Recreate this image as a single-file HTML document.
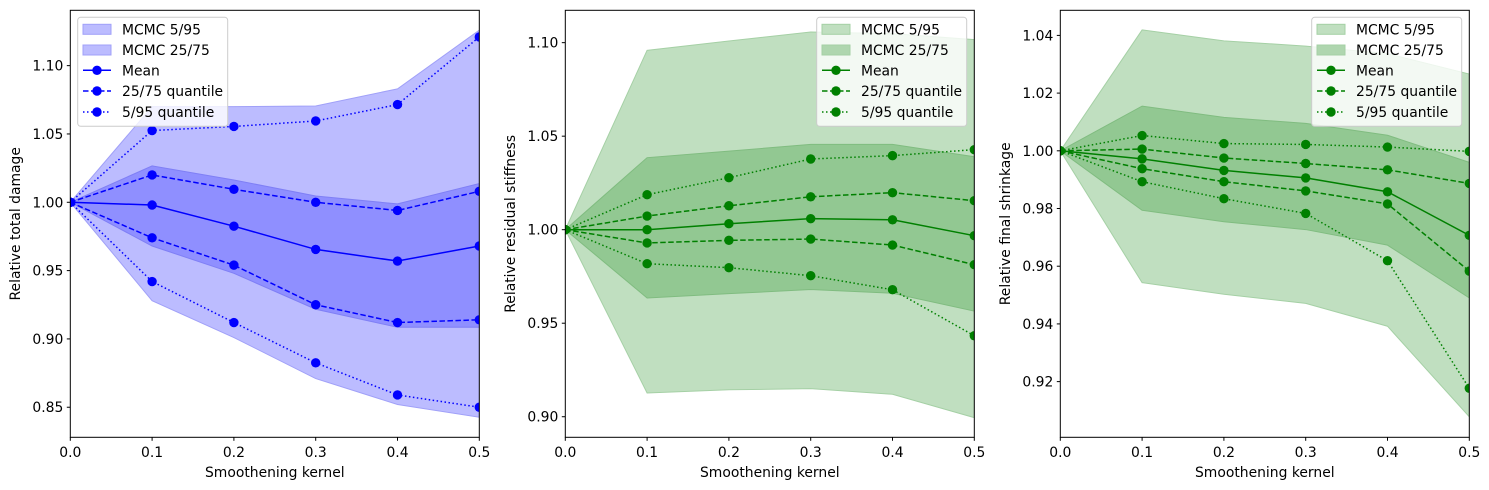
<!DOCTYPE html>
<html><head><meta charset="utf-8">
<style>
html,body{margin:0;padding:0;background:#fff;}
svg{display:block;font-family:"DejaVu Sans","Liberation Sans",sans-serif;}
</style></head>
<body>
<svg id="chart" width="1489" height="490" viewBox="0 0 1489 490" xmlns="http://www.w3.org/2000/svg"></svg>
<script>
const xValues = [0, 0.1, 0.2, 0.3, 0.4, 0.5];
const xTicks = ["0.0","0.1","0.2","0.3","0.4","0.5"];

// Panel 1: total damage
const p1Mean = [1, 0.998, 0.9825, 0.9655, 0.957, 0.968];
const p1Q75 = [1, 1.020, 1.0095, 1.000, 0.994, 1.008];
const p1Q25 = [1, 0.974, 0.954, 0.925, 0.912, 0.914];
const p1Q95 = [1, 1.0525, 1.0555, 1.0595, 1.0715, 1.121];
const p1Q5 = [1, 0.942, 0.912, 0.8825, 0.859, 0.850];
const p1Band95Hi = [1, 1.070, 1.070, 1.0705, 1.083, 1.126];
const p1Band95Lo = [1, 0.928, 0.901, 0.871, 0.852, 0.8427];
const p1Band75Hi = [1, 1.0266, 1.0163, 1.0046, 0.9988, 1.0137];
const p1Band75Lo = [1, 0.968, 0.948, 0.9217, 0.9085, 0.9085];
const p1YTicks = ["0.85","0.90","0.95","1.00","1.05","1.10"];

// Panel 2: residual stiffness
const p2Mean = [1, 1.000, 1.0032, 1.0059, 1.0053, 0.9968];
const p2Q75 = [1, 1.0073, 1.0128, 1.0176, 1.0198, 1.0155];
const p2Q25 = [1, 0.9929, 0.9943, 0.995, 0.9918, 0.9813];
const p2Q95 = [1, 1.0187, 1.0278, 1.0378, 1.0396, 1.0428];
const p2Q5 = [1, 0.9818, 0.9797, 0.9754, 0.9679, 0.9433];
const p2Band95Hi = [1, 1.0959, 1.1009, 1.1057, 1.1048, 1.1016];
const p2Band95Lo = [1, 0.9127, 0.9144, 0.915, 0.912, 0.8995];
const p2Band75Hi = [1, 1.0385, 1.042, 1.0456, 1.0456, 1.039];
const p2Band75Lo = [1, 0.9635, 0.9658, 0.968, 0.966, 0.9565];
const p2YTicks = ["0.90","0.95","1.00","1.05","1.10"];

// Panel 3: final shrinkage
const p3Mean = [1, 0.9972, 0.9932, 0.9906, 0.9858, 0.9707];
const p3Q75 = [1, 1.0006, 0.9975, 0.9956, 0.9934, 0.9887];
const p3Q25 = [1, 0.9938, 0.9893, 0.9861, 0.9816, 0.9583];
const p3Q95 = [1, 1.0053, 1.0025, 1.0022, 1.0013, 0.9998];
const p3Q5 = [1, 0.9893, 0.9834, 0.9783, 0.9619, 0.9177];
const p3Band95Hi = [1, 1.0419, 1.0381, 1.0363, 1.0337, 1.0266];
const p3Band95Lo = [1, 0.9543, 0.9503, 0.9471, 0.9392, 0.9078];
const p3Band75Hi = [1, 1.0155, 1.0116, 1.0095, 1.0054, 0.996];
const p3Band75Lo = [1, 0.9794, 0.9754, 0.9727, 0.9673, 0.949];
const p3YTicks = ["0.92","0.94","0.96","0.98","1.00","1.02","1.04"];

const svg = document.getElementById('chart');
const NS = 'http://www.w3.org/2000/svg';
const FS = 13.9;
function mk(tag, attrs, parent){
  const e = document.createElementNS(NS, tag);
  for (const k in attrs) e.setAttribute(k, attrs[k]);
  (parent||svg).appendChild(e);
  return e;
}

const panels = [
  {name:'damage', left:70.3, right:479.3, ymin:0.828, ymax:1.1405, color:'#0000ff',
   light:'#bcbcff', lightEdge:'#a0a0f8', dark:'#8f8fff', darkEdge:'#7f7ff5',
   ylabel:'Relative total damage', ylabelX:15, yticks:p1YTicks,
   mean:p1Mean,q75:p1Q75,q25:p1Q25,q95:p1Q95,q5:p1Q5,b95h:p1Band95Hi,b95l:p1Band95Lo,b75h:p1Band75Hi,b75l:p1Band75Lo, legX:77.7},
  {name:'stiffness', left:565.3, right:974.3, ymin:0.889, ymax:1.1173, color:'#008000',
   light:'#c0dfc0', lightEdge:'#a5d0a5', dark:'#92c892', darkEdge:'#80bc80',
   ylabel:'Relative residual stiffness', ylabelX:510, yticks:p2YTicks,
   mean:p2Mean,q75:p2Q75,q25:p2Q25,q95:p2Q95,q5:p2Q5,b95h:p2Band95Hi,b95l:p2Band95Lo,b75h:p2Band75Hi,b75l:p2Band75Lo, legX:816.7},
  {name:'shrinkage', left:1060.3, right:1469.3, ymin:0.9007, ymax:1.0487, color:'#008000',
   light:'#c0dfc0', lightEdge:'#a5d0a5', dark:'#92c892', darkEdge:'#80bc80',
   ylabel:'Relative final shrinkage', ylabelX:1005, yticks:p3YTicks,
   mean:p3Mean,q75:p3Q75,q25:p3Q25,q95:p3Q95,q5:p3Q5,b95h:p3Band95Hi,b95l:p3Band95Lo,b75h:p3Band75Hi,b75l:p3Band75Lo, legX:1311.7}
];
const TOP = 10.3, BOTTOM = 437.3;

panels.forEach(p => {
  const g = mk('g', {});
  
  
  const xs = v => p.left + (v - 0) / 0.5 * (p.right - p.left);
  const ys = v => BOTTOM - (v - p.ymin) / (p.ymax - p.ymin) * (BOTTOM - TOP);
  const clipId = 'clip-' + p.name;
  const cp = mk('clipPath', {id: clipId}, g);
  mk('rect', {x:p.left, y:TOP, width:p.right-p.left, height:BOTTOM-TOP}, cp);
  const plot = mk('g', {'clip-path':'url(#'+clipId+')'}, g);

  function band(hi, lo, fill, edge, nm){
    let d = 'M' + xValues.map((x,i)=>xs(x)+','+ys(hi[i])).join('L');
    d += 'L' + xValues.slice().reverse().map((x,j)=>{const i=xValues.length-1-j;return xs(x)+','+ys(lo[i]);}).join('L') + 'Z';
    const e = mk('path', {d:d, fill:fill, stroke:edge, 'stroke-width':1}, plot);
    
    
  }
  band(p.b95h, p.b95l, p.light, p.lightEdge, 'band-5-95');
  band(p.b75h, p.b75l, p.dark, p.darkEdge, 'band-25-75');

  function series(vals, dash, nm){
    const sg = mk('g', {}, plot);
    
    
    const pts = xValues.map((x,i)=>xs(x)+','+ys(vals[i])).join(' ');
    const attrs = {points:pts, fill:'none', stroke:p.color, 'stroke-width':1.5};
    if (dash) attrs['stroke-dasharray'] = dash;
    mk('polyline', attrs, sg);
    xValues.forEach((x,i)=>{
      const c = mk('circle', {cx:xs(x), cy:ys(vals[i]), r:4.7, fill:p.color}, sg);
      
      
    });
  }
  series(p.q95, '1.5,2.5', 'line-q95');
  series(p.q5, '1.5,2.5', 'line-q5');
  series(p.q75, '5.5,2.5', 'line-q75');
  series(p.q25, '5.5,2.5', 'line-q25');
  series(p.mean, null, 'line-mean');

  const fr = mk('rect', {x:p.left, y:TOP, width:p.right-p.left, height:BOTTOM-TOP, fill:'none', stroke:'#000', 'stroke-width':1}, g);
  
  

  xTicks.forEach((t,i)=>{
    const x = xs(xValues[i]);
    mk('line', {x1:x, x2:x, y1:BOTTOM, y2:BOTTOM+3.5, stroke:'#000'}, g);
    const tx = mk('text', {x:x, y:BOTTOM+19.5, 'text-anchor':'middle', 'font-size':FS, fill:'#000'}, g);
    tx.textContent = t;
    
    
  });
  p.yticks.forEach(t=>{
    const y = ys(parseFloat(t));
    mk('line', {x1:p.left-3.5, x2:p.left, y1:y, y2:y, stroke:'#000'}, g);
    const tx = mk('text', {x:p.left-7, y:y+5, 'text-anchor':'end', 'font-size':FS, fill:'#000'}, g);
    tx.textContent = t;
    
    
  });
  const xl = mk('text', {x:(p.left+p.right)/2, y:477, 'text-anchor':'middle', 'font-size':FS, fill:'#000'}, g);
  xl.textContent = 'Smoothening kernel';
  
  
  const yc = (TOP+BOTTOM)/2;
  const yl = mk('text', {x:p.ylabelX+5, y:yc, 'text-anchor':'middle', 'font-size':FS, fill:'#000', transform:'rotate(-90 '+(p.ylabelX+5)+' '+yc+')'}, g);
  yl.textContent = p.ylabel;
  
  

  const lg = mk('g', {}, g);
  
  
  const lx = p.legX, ly = 17.3;
  mk('rect', {x:lx, y:ly, width:150, height:109, rx:3, fill:'rgba(255,255,255,0.8)', stroke:'#cccccc', 'stroke-width':1}, lg);
  const rows = [
    {label:'MCMC 5/95', type:'patch', fill:p.light, edge:p.lightEdge},
    {label:'MCMC 25/75', type:'patch', fill:p.name==='damage'?p.light:'#afd6af', edge:p.lightEdge},
    {label:'Mean', type:'line', dash:null},
    {label:'25/75 quantile', type:'line', dash:'5.5,2.5'},
    {label:'5/95 quantile', type:'line', dash:'1.5,2.5'}
  ];
  const rowY = [29.3, 50, 70.3, 91, 112];
  rows.forEach((r,i)=>{
    const eg = mk('g', {}, lg);
    
    
    const y = rowY[i];
    if (r.type==='patch') {
      mk('rect', {x:lx+5.3, y:y-5, width:28, height:10, fill:r.fill, stroke:r.edge}, eg);
    } else {
      const a = {x1:lx+5.3, x2:lx+33.3, y1:y, y2:y, stroke:p.color, 'stroke-width':1.5};
      if (r.dash) a['stroke-dasharray'] = r.dash;
      mk('line', a, eg);
      mk('circle', {cx:lx+19.3, cy:y, r:4.7, fill:p.color}, eg);
    }
    const t = mk('text', {x:lx+44.3, y:y+5, 'font-size':FS, fill:'#000'}, eg);
    t.textContent = r.label;
  });
});
</script>
</body></html>
